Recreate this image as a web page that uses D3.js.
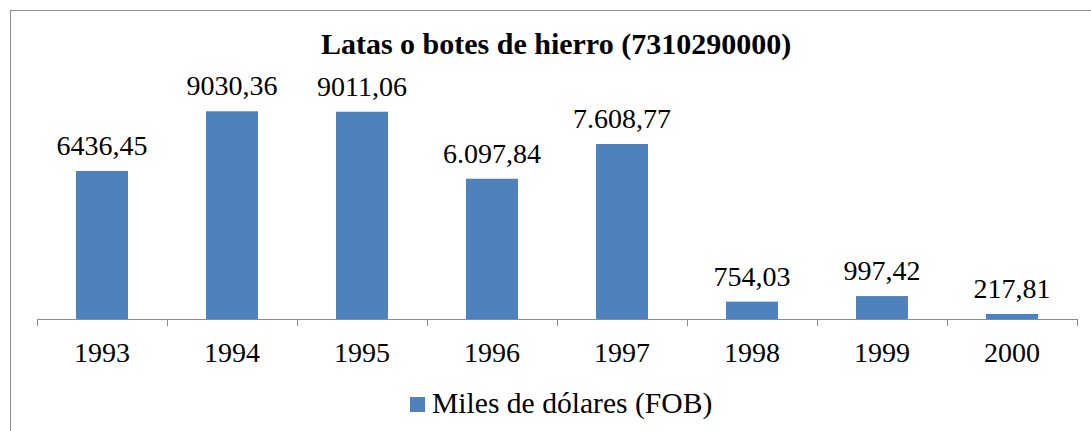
<!DOCTYPE html>
<html>
<head>
<meta charset="utf-8">
<script src="https://cdn.jsdelivr.net/npm/d3@7"></script>
</head>
<body style="margin:0">
<div id="chart"></div>
<script>
// chart data
var years = ['1993', '1994', '1995', '1996', '1997', '1998', '1999', '2000']
var values = [6436.45, 9030.36, 9011.06, 6097.84, 7608.77, 754.03, 997.42, 217.81]
var labels = ['6436,45', '9030,36', '9011,06', '6.097,84', '7.608,77', '754,03', '997,42', '217,81']
var seriesName = 'Miles de dólares (FOB)'
var title = 'Latas o botes de hierro (7310290000)'

var width = 1091
var height = 431
var barColor = '#4F81BD'
var serif = 'Liberation Serif'

const svg = d3.select('#chart')
.append('svg')
.attr('width', width)
.attr('height', height)
.style('font-family', serif)

// outer frame (runs off the right and bottom of the picture)
svg.append('rect')
.attr('x', 10.5)
.attr('y', 10.5)
.attr('width', 1200)
.attr('height', 600)
.attr('fill', 'none')
.attr('stroke', '#8c8c8c')
.attr('stroke-width', 1)

var x = d3.scaleBand()
.domain(years)
.range([37, 1077])
.paddingInner(0.6)
.paddingOuter(0.3)

var y = d3.scaleLinear()
.domain([0, 10000])
.range([319, 89])

// bars
svg.selectAll('.bar')
.data(values)
.enter()
.append('rect')
.attr('class', 'bar')
.attr('x', function(d, i){ return x(years[i]) })
.attr('y', function(d){ return y(d) })
.attr('width', x.bandwidth())
.attr('height', function(d){ return y(0) - y(d) })
.attr('fill', barColor)

// value labels
svg.selectAll('.val')
.data(values)
.enter()
.append('text')
.attr('class', 'val')
.attr('x', function(d, i){ return x(years[i]) + x.bandwidth() / 2 })
.attr('y', function(d){ return y(d) - 16 })
.attr('text-anchor', 'middle')
.attr('font-size', 28)
.style('font-family', serif)
.text(function(d, i){ return labels[i] })

// category labels (drawn from the band scale, like an axis without its line)
svg.selectAll('.cat')
.data(years)
.enter()
.append('text')
.attr('class', 'cat')
.attr('x', function(d){ return x(d) + x.bandwidth() / 2 })
.attr('y', 362)
.attr('text-anchor', 'middle')
.attr('font-size', 28)
.style('font-family', serif)
.text(function(d){ return d })

// axis line and ticks between the categories
var step = x.step()
var edges = d3.range(years.length + 1).map(function(i){ return 37 + i * step })
svg.append('line')
.attr('x1', 37).attr('x2', 1077)
.attr('y1', 319.5).attr('y2', 319.5)
.attr('stroke', '#8c8c8c')
svg.selectAll('.tick-mark')
.data(edges)
.enter()
.append('line')
.attr('x1', function(d){ return Math.round(d) + 0.5 })
.attr('x2', function(d){ return Math.round(d) + 0.5 })
.attr('y1', 319)
.attr('y2', 326)
.attr('stroke', '#8c8c8c')

// title
svg.append('text')
.attr('x', 556)
.attr('y', 54)
.attr('text-anchor', 'middle')
.attr('font-size', 30)
.attr('font-weight', 'bold')
.style('font-family', serif)
.text(title)

// legend
svg.append('rect')
.attr('x', 410)
.attr('y', 397)
.attr('width', 15)
.attr('height', 15)
.attr('fill', barColor)
svg.append('text')
.attr('x', 432)
.attr('y', 413)
.attr('font-size', 29.6)
.style('font-family', serif)
.text(seriesName)
</script>
</body>
</html>
